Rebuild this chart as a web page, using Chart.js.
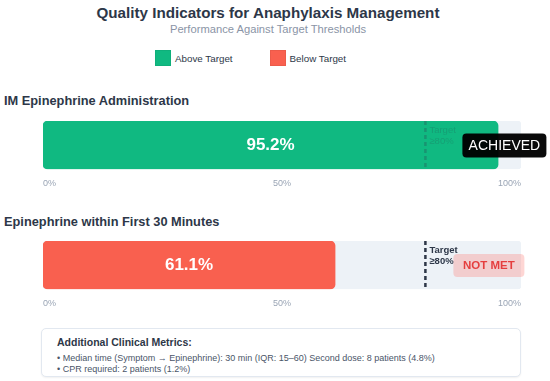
<!DOCTYPE html>
<html>
<head>
<meta charset="utf-8">
<script src="https://cdn.jsdelivr.net/npm/chart.js@4.4.1/dist/chart.umd.min.js"></script>
<style>
  body { margin: 0; width: 550px; height: 381px; overflow: hidden; background: #fff;
         font-family: "Liberation Sans", Arial, Helvetica, sans-serif; color: #2d3748; }
  .abs { position: absolute; }
  #title { top: 4px; left: 0; width: 536px; text-align: center; font-size: 15.2px; font-weight: bold; }
  #subtitle { top: 23px; left: 0; width: 536px; text-align: center; font-size: 11.2px; color: #8a94a6; }
  #legend { top: 50px; left: 155px; display: flex; font-size: 9.8px; color: #2d3748; }
  #legend .item { display: flex; align-items: center; margin-right: 37px; }
  #legend .sw { width: 14px; height: 14px; margin-right: 4px; border: 1px solid rgba(0,0,0,0.05); }
  .heading { left: 4px; font-size: 12.8px; font-weight: bold; }
  .wrap { left: 0; width: 550px; height: 83px; }
  #info { left: 41px; top: 328px; width: 478px; height: 47px; border: 1px solid #e2e8f0; border-radius: 5px;
          box-shadow: 0 1px 2px rgba(0,0,0,0.06); background: #fff; }
  #info .h { position: absolute; left: 15px; top: 7px; font-size: 10.5px; font-weight: bold; color: #2d3748; }
  #info .l { position: absolute; left: 15px; font-size: 9px; color: #4a5568; }
</style>
</head>
<body>
<div id="title" class="abs">Quality Indicators for Anaphylaxis Management</div>
<div id="subtitle" class="abs">Performance Against Target Thresholds</div>
<div id="legend" class="abs"></div>

<div id="h0" class="abs heading" style="top:93px"></div>
<div class="abs wrap" style="top:115px"><canvas id="c0"></canvas></div>

<div id="h1" class="abs heading" style="top:214px"></div>
<div class="abs wrap" style="top:235px"><canvas id="c1"></canvas></div>

<div id="info" class="abs">
  <div class="h">Additional Clinical Metrics:</div>
  <div class="l" style="top:24px">• Median time (Symptom → Epinephrine): 30 min (IQR: 15–60) Second dose: 8 patients (4.8%)</div>
  <div class="l" style="top:35px">• CPR required: 2 patients (1.2%)</div>
</div>

<script>
// data
const categories = ['IM Epinephrine Administration', 'Epinephrine within First 30 Minutes'];
const values = [95.2, 61.1];
const targets = [80, 80];
const tickValues = [0, 50, 100];
const statusLabels = ['ACHIEVED', 'NOT MET'];
const legendLabels = ['Above Target', 'Below Target'];

const GREEN = '#10b981';
const RED = '#f9604f';
const TRACK = '#edf2f7';
const DARK = '#2d3748';

// legend
const legendColors = [GREEN, RED];
document.getElementById('legend').innerHTML = legendLabels.map((l, i) =>
  '<div class="item"><div class="sw" style="background:' + legendColors[i] + '"></div>' + l + '</div>').join('');

// badge styles per status (met / not met)
const badgeStyle = {
  met:    { bg: 'rgba(0,0,0,0.96)', color: '#fff', font: '14px "Liberation Sans", Arial', w: 84, h: 24, dx: 37 },
  notMet: { bg: 'rgba(252,129,120,0.32)', color: '#e53e3e', font: 'bold 11.5px "Liberation Sans", Arial', w: 71, h: 23, dx: 28 }
};

function drawTarget(chart, i) {
  const ctx = chart.ctx, a = chart.chartArea, x = chart.scales.x;
  const tx = x.getPixelForValue(targets[i]);
  ctx.save();
  // target hidden behind the bar when it is reached
  ctx.globalAlpha = values[i] >= targets[i] ? 0.28 : 1;
  ctx.strokeStyle = DARK;
  ctx.lineWidth = 2.5;
  ctx.setLineDash([4, 3]);
  ctx.beginPath();
  ctx.moveTo(tx, a.top);
  ctx.lineTo(tx, a.bottom);
  ctx.stroke();
  ctx.setLineDash([]);
  ctx.globalAlpha = values[i] >= targets[i] ? 0.2 : 1;
  ctx.fillStyle = DARK;
  ctx.font = (values[i] >= targets[i] ? '' : 'bold ') + '9.5px "Liberation Sans", Arial';
  ctx.textBaseline = 'middle';
  ctx.textAlign = 'left';
  ctx.fillText('Target', tx + 4, a.top + 9);
  ctx.fillText('\u2265' + targets[i] + '%', tx + 4, a.top + 20);
  ctx.restore();
}

const overlay = {
  id: 'overlay',
  afterDatasetsDraw(chart) {
    const i = chart.options.plugins.overlay.idx;
    const ctx = chart.ctx, x = chart.scales.x;
    drawTarget(chart, i);
    const bar = chart.getDatasetMeta(0).data[0];
    const x0 = x.getPixelForValue(0), x1 = x.getPixelForValue(values[i]);
    ctx.save();
    ctx.fillStyle = '#fff';
    ctx.font = 'bold 17px "Liberation Sans", Arial';
    ctx.textAlign = 'center';
    ctx.textBaseline = 'middle';
    ctx.fillText(values[i].toFixed(1) + '%', (x0 + x1) / 2, bar.y);

    const s = values[i] >= targets[i] ? badgeStyle.met : badgeStyle.notMet;
    const tx = x.getPixelForValue(targets[i]);
    const bx = tx + s.dx, by = bar.y - s.h / 2 + 0.5;
    ctx.fillStyle = s.bg;
    ctx.beginPath();
    ctx.roundRect(bx, by, s.w, s.h, 4);
    ctx.fill();
    ctx.fillStyle = s.color;
    ctx.font = s.font;
    ctx.fillText(statusLabels[i], bx + s.w / 2, by + s.h / 2 + 0.5);
    ctx.restore();
  }
};

function makeChart(i) {
  const color = values[i] >= targets[i] ? GREEN : RED;
  return new Chart(document.getElementById('c' + i), {
    type: 'bar',
    data: {
      labels: [categories[i]],
      datasets: [
        { data: [values[i]], backgroundColor: color, borderRadius: 5, borderSkipped: false,
          grouped: false, order: 1, barPercentage: 1, categoryPercentage: 1 },
        { data: [tickValues[tickValues.length - 1]], backgroundColor: TRACK, borderRadius: 4, borderSkipped: false,
          grouped: false, order: 2, barPercentage: 1, categoryPercentage: 1 }
      ]
    },
    options: {
      indexAxis: 'y',
      responsive: true,
      maintainAspectRatio: false,
      animation: false,
      layout: { padding: { left: 43, right: 29, top: 6, bottom: 0 } },
      scales: {
        y: { display: false },
        x: {
          min: tickValues[0], max: tickValues[tickValues.length - 1],
          grid: { display: false, drawTicks: false },
          border: { display: false },
          afterBuildTicks: s => { s.ticks = tickValues.map(v => ({ value: v })); },
          ticks: { align: 'inner', padding: 9, color: '#9aa5b5', font: { size: 9, family: '"Liberation Sans", Arial' },
                   callback: v => v + '%' }
        }
      },
      plugins: { legend: { display: false }, tooltip: { enabled: false }, overlay: { idx: i } }
    },
    plugins: [overlay]
  });
}

categories.forEach((c, i) => {
  document.getElementById('h' + i).textContent = c;
  makeChart(i);
});
</script>
</body>
</html>
